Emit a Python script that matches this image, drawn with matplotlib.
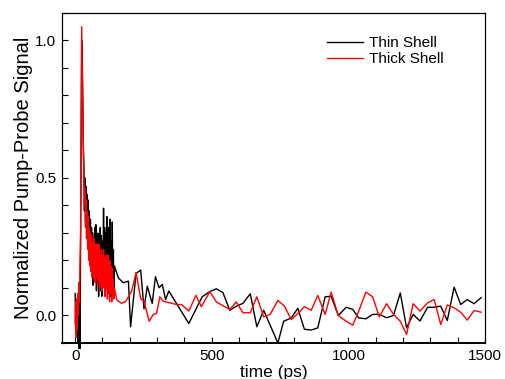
import matplotlib
matplotlib.use("Agg")
import matplotlib.pyplot as plt
from matplotlib.ticker import MultipleLocator, FuncFormatter

plt.rcParams['font.family'] = ['Liberation Sans', 'DejaVu Sans']

# early part, sampled every 2 ps (0..144 ps)
t_fast = list(range(0, 146, 2))
thin_fast = [0.08, -0.05, 0.06, -0.08, 0.05, -0.10, 0.07, -0.12, 0.10, -0.12,
             0.25, 0.55, 1.00, 0.95, 0.80, 0.62, 0.55, 0.38, 0.50, 0.34,
             0.47, 0.28, 0.44, 0.26, 0.42, 0.22, 0.38, 0.19, 0.35, 0.16,
             0.32, 0.14, 0.30, 0.11, 0.28, 0.18, 0.32, 0.12, 0.33, 0.09,
             0.30, 0.16, 0.27, 0.07, 0.30, 0.11, 0.32, 0.09, 0.29, 0.07,
             0.27, 0.13, 0.39, 0.11, 0.32, 0.07, 0.30, 0.15, 0.36, 0.09,
             0.28, 0.08, 0.32, 0.13, 0.35, 0.07, 0.27, 0.11, 0.34, 0.09,
             0.24, 0.07, 0.18]
thick_fast = [-0.03, 0.05, -0.08, 0.06, -0.05, 0.08, 0.00, 0.12, 0.05, 0.20,
              0.30, 0.70, 1.05, 0.90, 0.72, 0.60, 0.50, 0.40, 0.46, 0.32,
              0.42, 0.28, 0.38, 0.24, 0.36, 0.20, 0.32, 0.18, 0.30, 0.16,
              0.29, 0.14, 0.27, 0.16, 0.28, 0.13, 0.26, 0.12, 0.24, 0.14,
              0.26, 0.11, 0.24, 0.13, 0.26, 0.10, 0.22, 0.12, 0.24, 0.09,
              0.22, 0.11, 0.24, 0.10, 0.21, 0.07, 0.22, 0.11, 0.20, 0.06,
              0.22, 0.09, 0.19, 0.05, 0.20, 0.08, 0.18, 0.05, 0.17, 0.07,
              0.13, 0.06, 0.10]

# later part, coarser sampling
t_thin_slow = [158, 176, 195, 203, 223, 240, 252, 264, 282, 294, 307, 319, 331, 343,
               416, 465, 493, 517, 541, 566, 590, 614, 641, 665, 690, 742, 763,
               791, 815, 839, 864, 888, 915, 937, 963, 992, 1016, 1038, 1064,
               1089, 1113, 1140, 1165, 1190, 1213, 1237, 1262, 1290, 1314, 1338,
               1362, 1387, 1411, 1435, 1460, 1486]
thin_slow = [0.137, 0.119, 0.125, -0.041, 0.153, 0.165, 0.024, 0.107, 0.044, 0.141,
             0.101, 0.113, 0.058, 0.089, -0.029, 0.068, 0.087, 0.097, 0.083, 0.019,
             0.034, 0.044, 0.079, -0.041, 0.019, -0.100, -0.021, -0.009, 0.026,
             -0.050, -0.053, -0.045, 0.068, 0.070, 0.000, 0.030, 0.022, -0.009,
             -0.012, 0.004, 0.004, -0.008, 0.000, 0.082, -0.045, 0.004, -0.020,
             0.030, 0.030, 0.034, -0.018, 0.103, 0.040, 0.058, 0.043, 0.065]
t_thick_slow = [152, 170, 186, 207, 223, 240, 252, 271, 286, 298, 310, 322, 347, 371,
                389, 416, 442, 462, 493, 517, 541, 566, 590, 614, 641, 665, 690,
                714, 742, 766, 791, 815, 839, 864, 888, 915, 937, 963, 992, 1016,
                1038, 1064, 1089, 1113, 1140, 1165, 1190, 1213, 1237, 1262, 1290,
                1314, 1338, 1362, 1387, 1411, 1435, 1460, 1486]
thick_slow = [0.058, 0.044, 0.052, 0.089, 0.156, 0.061, 0.052, -0.021, 0.004, 0.007,
              0.068, 0.052, 0.046, 0.040, 0.040, 0.016, 0.073, 0.032, 0.087, 0.049,
              0.036, 0.022, 0.049, 0.010, 0.010, 0.068, -0.005, 0.004, 0.055, 0.034,
              -0.015, 0.007, 0.032, 0.019, 0.073, 0.004, 0.085, 0.000, -0.021,
              -0.035, 0.016, 0.085, 0.068, -0.005, 0.043, 0.004, -0.021, -0.069,
              0.043, 0.016, 0.046, 0.058, -0.033, 0.038, 0.028, 0.012, -0.017,
              0.018, 0.012]

fig = plt.figure(figsize=(5.05, 3.79), dpi=100)
ax = fig.add_axes([0.1228, 0.095, 0.8376, 0.8707])

ax.plot(t_fast + t_thin_slow, thin_fast + thin_slow, color='black', lw=1.0,
        label='Thin Shell', clip_on=False)
ax.plot(t_fast + t_thick_slow, thick_fast + thick_slow, color='#ff0000', lw=1.0,
        label='Thick Shell', clip_on=False)

ax.set_xlim(-48, 1500)
ax.set_ylim(-0.1, 1.1)
ax.xaxis.set_major_locator(MultipleLocator(500))
ax.xaxis.set_minor_locator(MultipleLocator(100))
ax.yaxis.set_major_locator(MultipleLocator(0.5))
ax.yaxis.set_minor_locator(MultipleLocator(0.1))
ax.yaxis.set_major_formatter(FuncFormatter(lambda v, p: f"{v:.1f}"))
ax.tick_params(which='both', direction='in', length=4, width=0.8,
               top=False, right=False, labelsize=11, pad=4)
for s in ax.spines.values():
    s.set_linewidth(0.9)
ax.spines['bottom'].set_linewidth(1.4)

ax.set_xlabel('time (ps)', fontsize=12.5, labelpad=2)
ax.set_ylabel('Normalized Pump-Probe Signal', fontsize=14.5, labelpad=2)

ax.legend(loc='upper left', bbox_to_anchor=(0.626, 0.93), frameon=False,
          fontsize=11, handlelength=2.35, handletextpad=0.4, borderpad=0,
          borderaxespad=0, labelspacing=0.15)

fig.savefig('out.png', dpi=100)
